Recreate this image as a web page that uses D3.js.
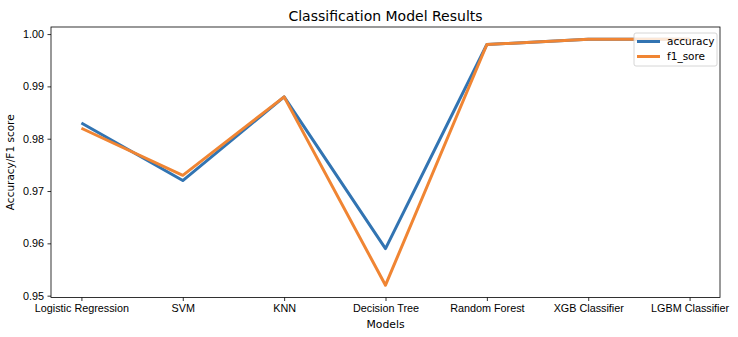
<!DOCTYPE html>
<html>
<head>
<meta charset="utf-8">
<script src="https://cdn.jsdelivr.net/npm/d3@7"></script>
<style>
  html, body { margin: 0; padding: 0; background: #fff; }
  svg { display: block; font-family: "DejaVu Sans", sans-serif; }
</style>
</head>
<body>
<svg id="chart" width="738" height="337"></svg>
<script>
// Model names along the x axis
const models = ["Logistic Regression", "SVM", "KNN", "Decision Tree", "Random Forest", "XGB Classifier", "LGBM Classifier"];
// Scores per model
const accuracy = [0.983, 0.972, 0.988, 0.959, 0.998, 0.999, 0.999];
const f1Score  = [0.982, 0.973, 0.988, 0.952, 0.998, 0.999, 0.999];
const yTicks = [0.95, 0.96, 0.97, 0.98, 0.99, 1.00];

const seriesList = [
  { name: "accuracy", values: accuracy, color: "#3274b2" },
  { name: "f1_sore",  values: f1Score,  color: "#f08533" }
];

const svg = d3.select("#chart");
const plotL = 51, plotR = 720, plotT = 27, plotB = 297.5;

// Index scale with a 5% margin each side
const x = d3.scaleLinear().domain([-0.3, models.length - 1 + 0.3]).range([plotL, plotR]);
const allVals = accuracy.concat(f1Score);
const yMin = d3.min(allVals), yMax = d3.max(allVals), pad = (yMax - yMin) * 0.05;
const y = d3.scaleLinear().domain([yMin - pad, yMax + pad]).range([plotB, plotT]);

// Lines
const line = d3.line().x((d, i) => x(i)).y(d => y(d));
seriesList.forEach(s => {
  svg.append("path")
    .datum(s.values)
    .attr("d", line)
    .attr("fill", "none")
    .attr("stroke", s.color)
    .attr("stroke-width", 3)
    .attr("stroke-linejoin", "round");
});

// Axes
const xAxis = d3.axisBottom(x)
  .tickValues(d3.range(models.length))
  .tickFormat(i => models[i])
  .tickSize(3.5).tickPadding(3.5);
const yAxis = d3.axisLeft(y)
  .tickValues(yTicks)
  .tickFormat(d3.format(".2f"))
  .tickSize(3.5).tickPadding(3.5);

const gx = svg.append("g").attr("transform", `translate(0,${plotB})`).call(xAxis);
const gy = svg.append("g").attr("transform", `translate(${plotL},0)`).call(yAxis);
[gx, gy].forEach(g => {
  g.select(".domain").remove();
  g.selectAll(".tick line").attr("stroke", "#000").attr("stroke-width", 0.8);
  g.selectAll(".tick text").attr("fill", "#000").style("font-size", "10.8px");
});

// Frame
svg.append("rect")
  .attr("x", plotL).attr("y", plotT)
  .attr("width", plotR - plotL).attr("height", plotB - plotT)
  .attr("fill", "none").attr("stroke", "#000").attr("stroke-width", 0.8);

// Title and axis labels
svg.append("text")
  .attr("x", (plotL + plotR) / 2).attr("y", 21)
  .attr("text-anchor", "middle")
  .style("font-size", "14px")
  .text("Classification Model Results");

svg.append("text")
  .attr("x", (plotL + plotR) / 2).attr("y", 328)
  .attr("text-anchor", "middle")
  .style("font-size", "10.8px")
  .text("Models");

svg.append("text")
  .attr("transform", `translate(14,${(plotT + plotB) / 2}) rotate(-90)`)
  .attr("text-anchor", "middle")
  .style("font-size", "10.5px")
  .text("Accuracy/F1 score");

// Legend
const lg = svg.append("g").attr("transform", "translate(634,33)");
lg.append("rect")
  .attr("width", 83).attr("height", 33).attr("rx", 2)
  .attr("fill", "#fff").attr("fill-opacity", 0.8)
  .attr("stroke", "#ccc").attr("stroke-width", 0.8);
seriesList.forEach((s, i) => {
  const yy = 8.5 + i * 15;
  lg.append("line")
    .attr("x1", 3).attr("x2", 26).attr("y1", yy).attr("y2", yy)
    .attr("stroke", s.color).attr("stroke-width", 3);
  lg.append("text")
    .attr("x", 33).attr("y", yy + 3.8)
    .style("font-size", "10.5px")
    .text(s.name);
});
</script>
</body>
</html>
